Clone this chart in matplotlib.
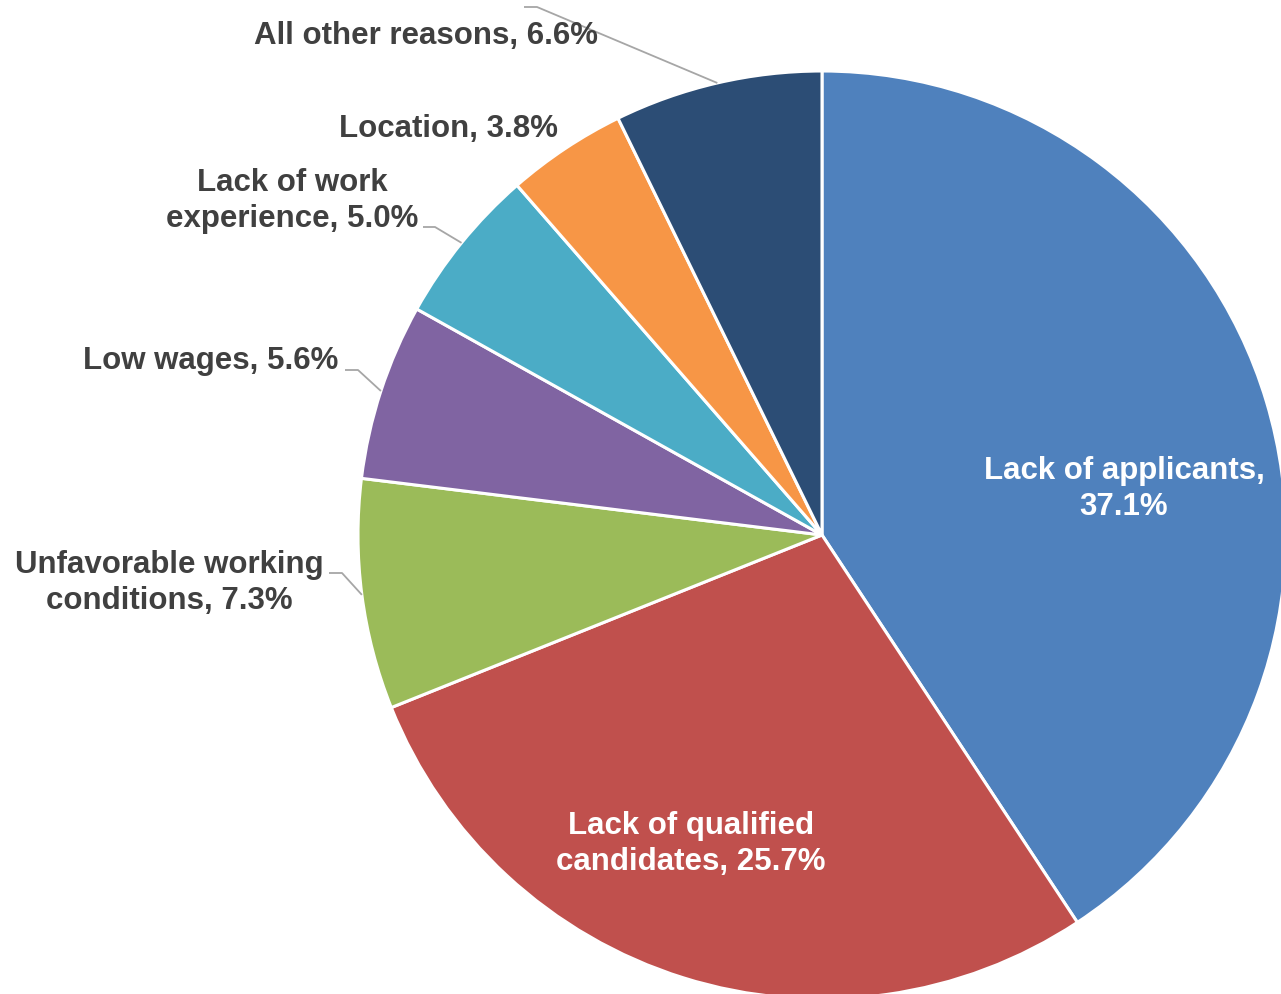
import numpy as np
import matplotlib.pyplot as plt

# reasons for unfilled vacancies (share of responses, %)
reasons = ['Lack of applicants', 'Lack of qualified\ncandidates',
           'Unfavorable working\nconditions', 'Low wages',
           'Lack of work\nexperience', 'Location', 'All other reasons']
shares = [37.1, 25.7, 7.3, 5.6, 5.0, 3.8, 6.6]
colors = ['#4F81BD', '#C0504D', '#9BBB59', '#8064A2', '#4BACC6', '#F79646', '#2C4D75']

label_text = [f'{r}, {v:.1f}%' for r, v in zip(reasons, shares)]
label_text[0] = label_text[0].replace(', ', ',\n')

# layout in pixels of the output image
W, H = 1281, 994
CX, CY, R = 822, 535, 464


def px(x, y):
    """pixel position -> data coords (pie radius = 1)"""
    return (x - CX) / R, (CY - y) / R


label_pos = [(1124, 489), (691, 844), (169, 583), (211, 361),
             (292, 201), (448, 129), (426, 36)]
label_col = ['white', 'white', '#404040', '#404040', '#404040', '#404040', '#404040']
# leader lines: start and elbow of the line, end is on the wedge edge
leaders = {2: [(329, 573), (342, 573)],
           3: [(345, 370), (358, 370)],
           4: [(423, 227), (435, 227)],
           6: [(524, 7), (537, 7)]}

fig = plt.figure(figsize=(W / 100, H / 100), dpi=100)
ax = fig.add_axes([0, 0, 1, 1])
wedges, _ = ax.pie(shares, colors=colors, startangle=90, counterclock=False,
                   wedgeprops=dict(edgecolor='white', linewidth=2.2))
ax.set_xlim(px(0, 0)[0], px(W, 0)[0])
ax.set_ylim(px(0, H)[1], px(0, 0)[1])
ax.set_aspect('auto')
ax.axis('off')

for i, pts in leaders.items():
    w = wedges[i]
    mid = np.deg2rad((w.theta1 + w.theta2) / 2)
    xs = [px(*p)[0] for p in pts] + [np.cos(mid)]
    ys = [px(*p)[1] for p in pts] + [np.sin(mid)]
    ax.plot(xs, ys, color='#A6A6A6', linewidth=1.3, solid_capstyle='butt')

for txt, (x, y), c in zip(label_text, label_pos, label_col):
    ax.text(*px(x, y), txt, ha='center', va='center', fontsize=22.5,
            fontweight='bold', color=c, family=['Liberation Sans', 'DejaVu Sans'],
            linespacing=1.3)

fig.savefig('out.png', dpi=100, facecolor='white')
